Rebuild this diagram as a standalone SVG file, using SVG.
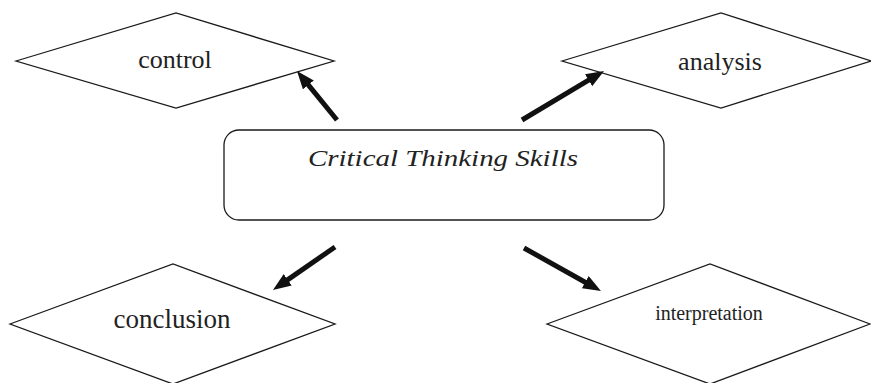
<svg xmlns="http://www.w3.org/2000/svg" width="871" height="383" viewBox="0 0 871 383">
<style>
.shape{fill:#fff;stroke:#1a1a1a;stroke-width:1.3}
.lbl{font-family:"Liberation Serif","Times New Roman",serif;fill:#222;text-anchor:middle}
.conn{stroke:#111;stroke-width:5;fill:none}
</style>
<defs>
<marker id="ah" markerUnits="userSpaceOnUse" markerWidth="18" markerHeight="14" refX="2" refY="7" orient="auto">
<path d="M0,0 L18,7 L0,14 z" fill="#111"/>
</marker>
</defs>
<rect width="871" height="383" fill="#fff"/>
<g id="center">
<rect class="shape" x="224" y="130" width="440" height="90" rx="15"/>
<text class="lbl" x="443" y="166" font-size="24" font-style="italic" textLength="270" lengthAdjust="spacingAndGlyphs">Critical Thinking Skills</text>
</g>
<g id="control">
<polygon class="shape" points="16,61 176,13 334,61 176,108"/>
<text class="lbl" x="175" y="68" font-size="26">control</text>
</g>
<g id="analysis">
<polygon class="shape" points="562,61 721,13 871,61 721,108"/>
<text class="lbl" x="720" y="70" font-size="26">analysis</text>
</g>
<g id="conclusion">
<polygon class="shape" points="10,324 173,264 335,324 173,384"/>
<text class="lbl" x="172" y="328" font-size="27">conclusion</text>
</g>
<g id="interpretation">
<polygon class="shape" points="547,324 710,264 870,324 710,384"/>
<text class="lbl" x="709" y="320" font-size="20">interpretation</text>
</g>
<g id="connectors">
<line class="conn" x1="337" y1="120" x2="307.1" y2="83.4" marker-end="url(#ah)"/>
<line class="conn" x1="522" y1="120" x2="590.3" y2="79.2" marker-end="url(#ah)"/>
<line class="conn" x1="335" y1="247" x2="286.1" y2="280.9" marker-end="url(#ah)"/>
<line class="conn" x1="524" y1="248" x2="587" y2="283.2" marker-end="url(#ah)"/>
</g>
</svg>
